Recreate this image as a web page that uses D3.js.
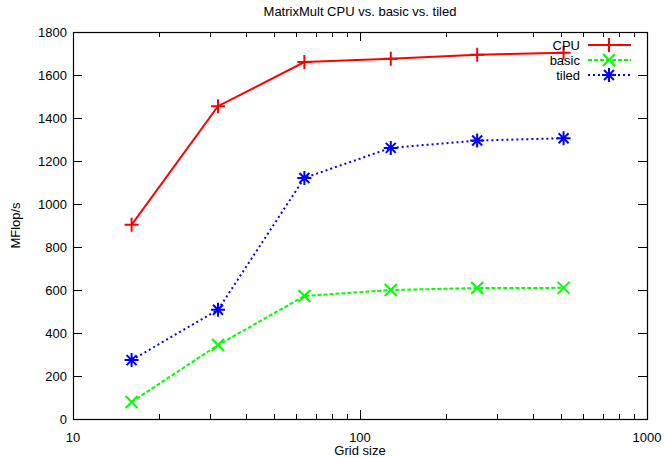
<!DOCTYPE html>
<html>
<head>
<meta charset="utf-8">
<script src="https://cdn.jsdelivr.net/npm/d3@7"></script>
<style>
  body { margin: 0; background: #fff; }
  svg { display: block; font-family: 'Liberation Sans', Arial, sans-serif; }
</style>
</head>
<body>
<div id="chart"></div>
<script>
const gridSizes = [16, 32, 64, 128, 256, 512];
const cpuValues = [903, 1455, 1660, 1676, 1694, 1704];
const basicValues = [79, 344, 572, 600, 609, 610];
const tiledValues = [274, 508, 1121, 1261, 1295, 1306];
const yTicks = [0, 200, 400, 600, 800, 1000, 1200, 1400, 1600, 1800];
const xTicks = [10, 100, 1000];

const series = [
  { name: 'CPU', values: cpuValues, color: '#ff0000', dash: null, marker: 'plus' },
  { name: 'basic', values: basicValues, color: '#00ff00', dash: '4 2', marker: 'cross' },
  { name: 'tiled', values: tiledValues, color: '#0000ff', dash: '2 3', marker: 'star' },
];

const width = 664, height = 457;
const margin = { top: 32, right: 17, bottom: 38, left: 73 };
const fontSize = 13;

const svg = d3.select('#chart').append('svg')
  .attr('width', width)
  .attr('height', height);

const x = d3.scaleLog().domain([10, 1000]).range([margin.left, width - margin.right]);
const y = d3.scaleLinear().domain([0, 1800]).range([height - margin.bottom, margin.top]);

const x0 = x.range()[0], x1 = x.range()[1];
const y0 = y.range()[0], y1 = y.range()[1];

// ticks (inside, mirrored like gnuplot)
const minorX = [];
for (let d = 10; d < 1000; d *= 10) {
  for (let k = 2; k <= 9; k++) minorX.push(d * k);
}
const ticks = svg.append('g').attr('stroke', '#000').attr('stroke-width', 1);
yTicks.forEach((v) => {
  const yy = Math.round(y(v)) + 0.5;
  ticks.append('line').attr('x1', x0).attr('x2', x0 + 9).attr('y1', yy).attr('y2', yy);
  ticks.append('line').attr('x1', x1).attr('x2', x1 - 9).attr('y1', yy).attr('y2', yy);
});
xTicks.forEach((v) => {
  const xx = Math.round(x(v)) + 0.5;
  ticks.append('line').attr('x1', xx).attr('x2', xx).attr('y1', y0).attr('y2', y0 - 9);
  ticks.append('line').attr('x1', xx).attr('x2', xx).attr('y1', y1).attr('y2', y1 + 9);
});
minorX.forEach((v) => {
  const xx = Math.round(x(v)) + 0.5;
  ticks.append('line').attr('x1', xx).attr('x2', xx).attr('y1', y0).attr('y2', y0 - 5);
  ticks.append('line').attr('x1', xx).attr('x2', xx).attr('y1', y1).attr('y2', y1 + 5);
});

// frame
svg.append('rect')
  .attr('x', x0 + 0.5).attr('y', y1 + 0.5)
  .attr('width', x1 - x0).attr('height', y0 - y1)
  .attr('fill', 'none').attr('stroke', '#000').attr('stroke-width', 1.2);

// tick labels
svg.append('g').selectAll('text').data(yTicks).enter().append('text')
  .attr('x', x0 - 6).attr('y', (d) => y(d)).attr('dy', '0.35em')
  .attr('text-anchor', 'end').attr('font-size', fontSize).text((d) => d);
svg.append('g').selectAll('text').data(xTicks).enter().append('text')
  .attr('x', (d) => x(d)).attr('y', y0 + 18).attr('dy', '0.35em')
  .attr('text-anchor', 'middle').attr('font-size', fontSize).text((d) => d);

// titles
svg.append('text').attr('x', (x0 + x1) / 2).attr('y', 16)
  .attr('text-anchor', 'middle').attr('font-size', fontSize).text('MatrixMult CPU vs. basic vs. tiled');
svg.append('text').attr('x', (x0 + x1) / 2).attr('y', 455)
  .attr('text-anchor', 'middle').attr('font-size', fontSize).text('Grid size');
svg.append('text').attr('transform', `translate(20,${(y0 + y1) / 2}) rotate(-90)`)
  .attr('text-anchor', 'middle').attr('font-size', fontSize).text('MFlop/s');

function drawMarker(g, type, color, cx, cy) {
  const s = 7;
  const paths = [];
  if (type === 'plus' || type === 'star') {
    paths.push(`M${cx - s},${cy}H${cx + s}M${cx},${cy - s}V${cy + s}`);
  }
  if (type === 'cross' || type === 'star') {
    const c = type === 'star' ? 5 : 6;
    paths.push(`M${cx - c},${cy - c}L${cx + c},${cy + c}M${cx - c},${cy + c}L${cx + c},${cy - c}`);
  }
  g.append('path').attr('d', paths.join('')).attr('stroke', color)
    .attr('stroke-width', 2).attr('fill', 'none');
}

const line = d3.line().x((d) => x(d[0])).y((d) => y(d[1]));

series.forEach((s) => {
  const pts = gridSizes.map((g, i) => [g, s.values[i]]);
  const g = svg.append('g');
  g.append('path').attr('d', line(pts)).attr('fill', 'none')
    .attr('stroke', s.color).attr('stroke-width', 2)
    .attr('stroke-dasharray', s.dash);
  pts.forEach((p) => drawMarker(g, s.marker, s.color, x(p[0]), y(p[1])));
});

// legend
series.forEach((s, i) => {
  const ly = 45 + i * 15;
  const g = svg.append('g');
  g.append('text').attr('x', 580).attr('y', ly).attr('dy', '0.35em')
    .attr('text-anchor', 'end').attr('font-size', fontSize).text(s.name);
  g.append('line').attr('x1', 588).attr('x2', 631).attr('y1', ly).attr('y2', ly)
    .attr('stroke', s.color).attr('stroke-width', 2).attr('stroke-dasharray', s.dash);
  drawMarker(g, s.marker, s.color, 609, ly);
});
</script>
</body>
</html>
